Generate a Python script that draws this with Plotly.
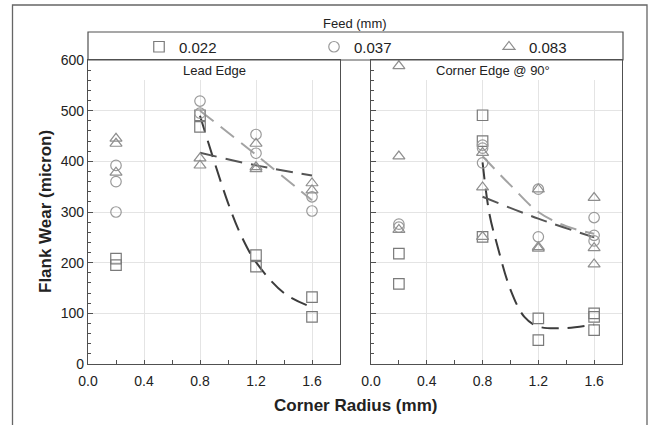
import plotly.graph_objects as go

# ---------------- data ----------------
feeds = ["0.022", "0.037", "0.083"]

# Lead Edge panel
lead_sq_x = [0.2, 0.2, 0.8, 0.8, 1.2, 1.2, 1.6, 1.6]
lead_sq_y = [208, 195, 491, 468, 215, 192, 132, 93]
lead_ci_x = [0.2, 0.2, 0.2, 0.8, 0.8, 1.2, 1.2, 1.6, 1.6]
lead_ci_y = [392, 360, 300, 519, 495, 453, 416, 330, 302]
lead_tr_x = [0.2, 0.2, 0.2, 0.8, 0.8, 1.2, 1.2, 1.2, 1.6, 1.6]
lead_tr_y = [445, 435, 378, 406, 392, 435, 389, 385, 357, 343]

lead_fit022_x = [0.8, 1.0, 1.1, 1.2, 1.4, 1.6]
lead_fit022_y = [490, 318, 250, 201, 140, 112]
lead_fit037_x = [0.8, 1.2, 1.6]
lead_fit037_y = [500, 413, 323]
lead_fit083_x = [0.8, 1.2, 1.6]
lead_fit083_y = [417, 392, 372]

# Corner Edge @ 90 panel
corn_sq_x = [0.2, 0.2, 0.8, 0.8, 0.8, 1.2, 1.2, 1.6, 1.6, 1.6]
corn_sq_y = [218, 158, 491, 440, 251, 90, 47, 100, 93, 67]
corn_ci_x = [0.2, 0.2, 0.8, 0.8, 0.8, 1.2, 1.2, 1.6, 1.6, 1.6]
corn_ci_y = [276, 270, 432, 426, 397, 345, 251, 289, 254, 243]
corn_tr_x = [0.2, 0.2, 0.2, 0.8, 0.8, 0.8, 1.2, 1.2, 1.2, 1.6, 1.6, 1.6]
corn_tr_y = [588, 410, 265, 417, 349, 251, 345, 231, 228, 328, 229, 197]

corn_fit022_x = [0.8, 0.85, 0.9, 1.0, 1.1, 1.2, 1.4, 1.6]
corn_fit022_y = [398, 295, 240, 147, 93, 74, 71, 78]
corn_fit037_x = [0.8, 1.0, 1.2, 1.4, 1.6]
corn_fit037_y = [410, 353, 300, 272, 257]
corn_fit083_x = [0.8, 1.2, 1.6]
corn_fit083_y = [330, 287, 250]

x_ticks = [0.0, 0.4, 0.8, 1.2, 1.6]
x_ticklabels = ["0.0", "0.4", "0.8", "1.2", "1.6"]
y_ticks = [0, 100, 200, 300, 400, 500, 600]

# ---------------- styles ----------------
FONT = "Arial, Liberation Sans, sans-serif"
sq_col = "#7a7a7a"
ci_col = "#9a9a9a"
tr_col = "#8e8e8e"
fit_cols = ["#3c3c3c", "#a3a3a3", "#555555"]
AX_COL = "#505050"
DASH = "17px,9px"

L, R, T, B = 88, 33, 60, 61
W, H = 655, 425
pw = W - L - R
ph = H - T - B

def px_x(p):
    return (p - L) / pw

def px_y(p):
    return (H - B - p) / ph

fig = go.Figure()

def markers(x, y, sym, col, name, xa, ya, show, leg):
    fig.add_trace(go.Scatter(
        x=x, y=y, mode="markers", name=name, showlegend=show, legend=leg,
        marker=dict(symbol=sym, size=10.5, color=col,
                    line=dict(color=col, width=1.2)),
        xaxis=xa, yaxis=ya, cliponaxis=False))

def fitline(x, y, col, xa, ya):
    fig.add_trace(go.Scatter(
        x=x, y=y, mode="lines", showlegend=False, hoverinfo="skip",
        line=dict(color=col, width=2, dash=DASH, shape="spline", smoothing=1.0),
        xaxis=xa, yaxis=ya))

fitline(lead_fit022_x, lead_fit022_y, fit_cols[0], "x", "y")
fitline(lead_fit037_x, lead_fit037_y, fit_cols[1], "x", "y")
fitline(lead_fit083_x, lead_fit083_y, fit_cols[2], "x", "y")
fitline(corn_fit022_x, corn_fit022_y, fit_cols[0], "x2", "y2")
fitline(corn_fit037_x, corn_fit037_y, fit_cols[1], "x2", "y2")
fitline(corn_fit083_x, corn_fit083_y, fit_cols[2], "x2", "y2")

markers(lead_sq_x, lead_sq_y, "square-open", sq_col, feeds[0], "x", "y", True, "legend")
markers(lead_ci_x, lead_ci_y, "circle-open", ci_col, feeds[1], "x", "y", True, "legend2")
markers(lead_tr_x, lead_tr_y, "triangle-up-open", tr_col, feeds[2], "x", "y", True, "legend3")
markers(corn_sq_x, corn_sq_y, "square-open", sq_col, feeds[0], "x2", "y2", False, "legend")
markers(corn_ci_x, corn_ci_y, "circle-open", ci_col, feeds[1], "x2", "y2", False, "legend2")
markers(corn_tr_x, corn_tr_y, "triangle-up-open", tr_col, feeds[2], "x2", "y2", False, "legend3")

xcommon = dict(range=[0, 1.8], tickvals=x_ticks, ticktext=x_ticklabels,
               showgrid=True, gridcolor="#e4e4e4", gridwidth=1,
               showline=True, linecolor=AX_COL, linewidth=1.2, mirror=True,
               ticks="inside", ticklen=4, tickcolor=AX_COL,
               minor=dict(dtick=0.2, tick0=0, ticks="inside", ticklen=4,
                          tickcolor=AX_COL, showgrid=False),
               ticklabelstandoff=4,
               zeroline=False, fixedrange=True,
               tickfont=dict(family=FONT, size=14, color="#222"))
ycommon = dict(range=[0, 600], tickvals=y_ticks,
               showgrid=True, gridcolor="#e4e4e4", gridwidth=1,
               showline=True, linecolor=AX_COL, linewidth=1.2, mirror=True,
               ticks="inside", ticklen=5, tickcolor=AX_COL,
               minor=dict(dtick=20, tick0=0, ticks="inside", ticklen=3,
                          tickcolor=AX_COL, showgrid=False),
               zeroline=False, fixedrange=True,
               tickfont=dict(family=FONT, size=14, color="#222"))

def leg(xpx):
    return dict(orientation="h", x=px_x(xpx), xanchor="left",
                y=px_y(47), yanchor="middle",
                bgcolor="rgba(0,0,0,0)", borderwidth=0,
                font=dict(family=FONT, size=15, color="#222"),
                itemclick=False, itemdoubleclick=False)

fig.update_layout(
    width=W, height=H,
    margin=dict(l=L, r=R, t=T, b=B),
    paper_bgcolor="white", plot_bgcolor="white",
    font=dict(family=FONT, size=13, color="#222"),
    xaxis=dict(domain=[0, px_x(340)], anchor="y", **xcommon),
    xaxis2=dict(domain=[px_x(371), 1], anchor="y2", **xcommon),
    yaxis=dict(domain=[0, 1], anchor="x", **ycommon),
    yaxis2=dict(domain=[0, 1], anchor="x2", showticklabels=False, **ycommon),
    legend=leg(139),
    legend2=leg(314),
    legend3=leg(489),
    showlegend=True,
)

shapes = []
for xr, yr in (("x", "y"), ("x2", "y2")):
    shapes.append(dict(type="rect", xref=xr, yref=yr, x0=0, x1=1.8,
                       y0=(H - B - 80) / ph * 600, y1=600,
                       fillcolor="white", line=dict(width=0), layer="between"))
shapes.append(dict(type="rect", xref="paper", yref="paper",
                   x0=0, x1=px_x(623), y0=1, y1=px_y(32),
                   line=dict(color=AX_COL, width=1.2), fillcolor="rgba(0,0,0,0)"))
shapes.append(dict(type="rect", xref="paper", yref="paper",
                   x0=px_x(12.5), x1=px_x(647), y0=px_y(445), y1=px_y(5),
                   line=dict(color="#666", width=1.3), fillcolor="rgba(0,0,0,0)"))
fig.update_layout(shapes=shapes)

def ann(text, xref, yref, x, y, size=13, angle=0):
    return dict(text=text, xref=xref, yref=yref, x=x, y=y, showarrow=False,
                xanchor="center", yanchor="middle", textangle=angle,
                font=dict(family=FONT, size=size, color="#222"))

label_y = (H - B - 70) / ph * 600
annotations = [
    ann("Feed (mm)", "paper", "paper", px_x(355), px_y(23)),
    ann("Lead Edge", "x", "y", 0.9, label_y),
    ann("Corner Edge @ 90°", "x2", "y2", 0.875, label_y),
    ann("<b>Flank Wear (micron)</b>", "paper", "paper", px_x(45), 0.5, 17, -90),
    ann("<b>Corner Radius (mm)</b>", "paper", "paper", px_x(355), px_y(405), 17),
]
fig.update_layout(annotations=annotations)

fig.write_html("out.html", config={"displayModeBar": False},
               post_script="document.body.style.margin='0';")
